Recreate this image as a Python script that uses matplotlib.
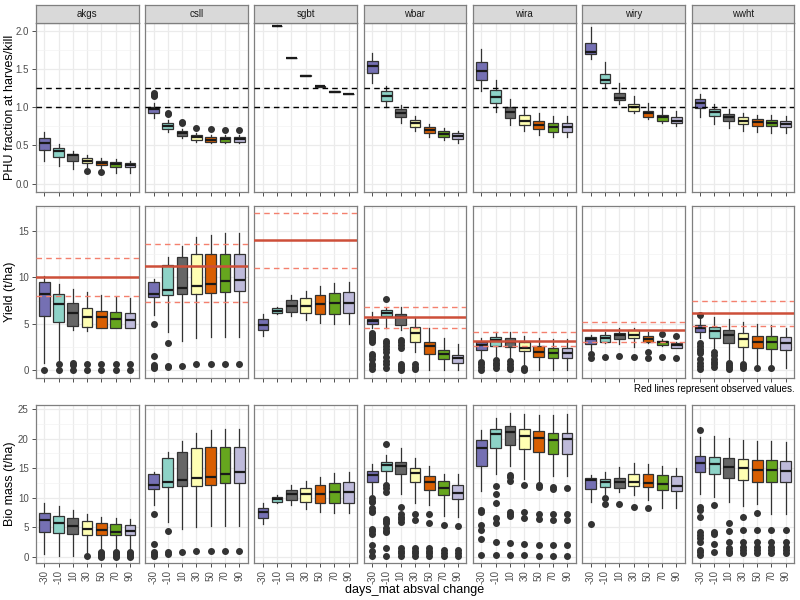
import matplotlib
matplotlib.use('Agg')
import matplotlib.pyplot as plt
from matplotlib.ticker import MultipleLocator

plt.rcParams['font.family'] = ['Liberation Sans', 'DejaVu Sans']

crops = ['akgs', 'csll', 'sgbt', 'wbar', 'wira', 'wiry', 'wwht']
changes = ['-30', '-10', '10', '30', '50', '70', '90']
box_colors = ['#7570B3', '#8DD3C7', '#666666', '#FFFFB3', '#D95F02', '#66A61E', '#BEBADA']

# box stats per change: (whisker low, q1, median, q3, whisker high)
phu_stats = {
    'akgs': [(0.29, 0.44, 0.536, 0.593, 0.67), (0.23, 0.353, 0.43, 0.46, 0.52), (0.19, 0.29, 0.37, 0.388, 0.43),
             (0.22, 0.266, 0.30, 0.335, 0.37), (0.20, 0.24, 0.266, 0.296, 0.34), (0.144, 0.222, 0.257, 0.283, 0.318),
             (0.135, 0.213, 0.24, 0.275, 0.30)],
    'csll': [(0.863, 0.92, 0.976, 1.007, 1.05), (0.67, 0.71, 0.758, 0.789, 0.83), (0.593, 0.623, 0.667, 0.688, 0.72),
             (0.55, 0.571, 0.614, 0.636, 0.667), (0.527, 0.55, 0.571, 0.614, 0.636), (0.527, 0.55, 0.58, 0.614, 0.636),
             (0.527, 0.55, 0.58, 0.614, 0.636)],
    'sgbt': [None, (2.06, 2.063, 2.065, 2.067, 2.07), (1.638, 1.641, 1.643, 1.645, 1.648), (1.407, 1.41, 1.412, 1.414, 1.417),
             (1.267, 1.27, 1.272, 1.274, 1.277), (1.198, 1.201, 1.203, 1.205, 1.208), (1.167, 1.17, 1.172, 1.174, 1.177)],
    'wbar': [(1.32, 1.442, 1.538, 1.603, 1.712), (0.998, 1.085, 1.15, 1.211, 1.28), (0.797, 0.867, 0.919, 0.972, 1.024),
             (0.688, 0.745, 0.789, 0.832, 0.885), (0.614, 0.667, 0.706, 0.741, 0.78), (0.571, 0.614, 0.649, 0.684, 0.728),
             (0.536, 0.588, 0.623, 0.658, 0.693)],
    'wira': [(1.216, 1.355, 1.477, 1.586, 1.756), (0.937, 1.05, 1.137, 1.224, 1.355), (0.771, 0.863, 0.932, 1.007, 1.111),
             (0.688, 0.763, 0.824, 0.893, 0.998), (0.64, 0.71, 0.767, 0.824, 0.919), (0.614, 0.68, 0.741, 0.797, 0.885),
             (0.614, 0.68, 0.741, 0.797, 0.88)],
    'wiry': [(1.625, 1.69, 1.725, 1.834, 2.044), (1.268, 1.32, 1.351, 1.434, 1.595), (1.041, 1.094, 1.124, 1.19, 1.312),
             (0.919, 0.954, 0.998, 1.041, 1.15), (0.841, 0.876, 0.919, 0.954, 1.05), (0.789, 0.815, 0.867, 0.893, 0.998),
             (0.754, 0.789, 0.824, 0.867, 0.954)],
    'wwht': [(0.876, 0.985, 1.05, 1.102, 1.168), (0.78, 0.885, 0.932, 0.98, 1.041), (0.723, 0.819, 0.867, 0.906, 0.972),
             (0.693, 0.78, 0.824, 0.867, 0.919), (0.671, 0.758, 0.80, 0.845, 0.898), (0.667, 0.754, 0.793, 0.832, 0.893),
             (0.658, 0.745, 0.784, 0.824, 0.885)],
}
phu_fliers = {
    'akgs': [[], [], [], [0.16], [0.148], [], []],
    'csll': [[1.14, 1.16, 1.18], [0.91, 0.92], [0.79, 0.80], [0.73], [0.71], [0.70], [0.70]],
}

yield_stats = {
    'akgs': [(0.72, 5.83, 8.24, 9.53, 10.14), (0.72, 5.14, 7.12, 8.17, 9.24), (4.32, 4.78, 6.12, 7.19, 8.78),
             (4.21, 4.64, 5.76, 6.65, 8.38), (4.5, 4.5, 5.72, 6.37, 8.09), (4.5, 4.5, 5.54, 6.22, 7.84),
             (4.5, 4.5, 5.43, 6.15, 7.73)],
    'csll': [(5.94, 7.88, 8.24, 9.53, 9.78), (4.06, 8.09, 8.67, 11.33, 12.16), (3.17, 8.17, 8.88, 12.16, 13.42),
             (3.42, 8.24, 9.1, 12.48, 14.35), (3.56, 8.31, 9.24, 12.48, 14.57), (3.56, 8.45, 9.6, 12.55, 14.75),
             (3.56, 8.53, 9.68, 12.55, 14.75)],
    'sgbt': [(3.7, 4.28, 4.86, 5.47, 6.04), (6.0, 6.15, 6.37, 6.65, 6.8), (5.86, 6.29, 6.94, 7.52, 8.09),
             (5.36, 6.12, 6.9, 7.73, 8.56), (5.07, 6.04, 7.09, 8.09, 9.03), (4.93, 6.04, 7.19, 8.27, 9.35),
             (4.93, 6.15, 7.23, 8.38, 9.46)],
    'wbar': [(4.5, 5.0, 5.29, 5.5, 6.22), (4.57, 5.79, 6.15, 6.44, 6.73), (4.32, 4.86, 5.72, 6.08, 6.76),
             (1.98, 3.06, 4.03, 4.64, 5.72), (0.0, 1.69, 2.63, 3.06, 4.5), (0.0, 1.15, 1.76, 2.12, 3.49),
             (0.0, 0.79, 1.26, 1.62, 2.84)],
    'wira': [(1.26, 2.12, 2.7, 3.06, 3.42), (1.55, 2.63, 3.2, 3.56, 4.06), (1.26, 2.48, 3.06, 3.42, 4.06),
             (0.1, 2.05, 2.41, 3.06, 3.7), (0.0, 1.44, 1.98, 2.63, 3.49), (0.0, 1.26, 1.83, 2.34, 3.35),
             (0.0, 1.26, 1.83, 2.34, 3.35)],
    'wiry': [(1.91, 2.84, 3.35, 3.56, 3.78), (2.88, 3.06, 3.42, 3.78, 4.14), (2.77, 3.35, 3.78, 4.03, 4.5),
             (2.52, 3.42, 3.78, 4.28, 4.5), (2.91, 3.06, 3.35, 3.63, 4.14), (2.63, 2.7, 2.99, 3.13, 3.35),
             (2.34, 2.41, 2.7, 2.91, 3.06)],
    'wwht': [(3.42, 4.06, 4.5, 4.86, 5.6), (2.12, 3.49, 4.21, 4.64, 5.76), (1.08, 2.95, 3.78, 4.32, 5.5),
             (1.08, 2.52, 3.35, 3.99, 5.14), (0.1, 2.34, 3.06, 3.63, 4.93), (0.1, 2.27, 3.06, 3.63, 4.86),
             (0.18, 2.12, 2.95, 3.56, 4.5)],
}
yield_fliers = {
    'akgs': [[0.0], [0.6, 0.0], [0.72, 0.54, 0.0], [0.6, 0.0], [0.6, 0.0], [0.6, 0.0], [0.6, 0.0]],
    'csll': [[4.93, 1.47, 0.54, 0.36, 0.18], [2.95, 0.47, 0.29], [0.47], [0.61], [0.61], [0.61], [0.61]],
    'wbar': [[4.0, 3.8, 3.6, 3.4, 3.2, 3.0, 1.7, 1.5, 1.2, 0.7, 0.4, 0.1],
             [7.66, 3.13, 2.88, 2.6, 2.3, 1.98, 1.4, 1.0, 0.6, 0.2],
             [3.24, 3.0, 2.7, 2.4, 0.6, 0.4, 0.2, 0.0], [0.6, 0.3, 0.1], [], [], []],
    'wira': [[0.9, 0.6, 0.3, 0.0], [1.1, 0.8, 0.5, 0.2], [1.0, 0.6, 0.3, 0.1], [0.2, 0.0], [], [], []],
    'wiry': [[1.69, 1.26], [1.44], [1.47], [1.4], [1.98, 1.33], [3.85, 1.37], [3.67, 1.26]],
    'wwht': [[5.9, 2.88, 2.6, 2.3, 2.0, 1.8, 1.2, 0.8, 0.4, 0.1], [1.9, 1.6, 1.2, 0.9, 0.6, 0.3],
             [0.72, 0.5, 0.3, 0.1], [0.6, 0.4, 0.2], [0.18], [0.18], []],
}

# observed yield: (mean, low, high)
observed_yield = {
    'akgs': (10.0, 8.02, 12.05), 'csll': (11.22, 7.34, 13.56), 'sgbt': (14.0, 11.04, 16.9),
    'wbar': (5.69, 4.57, 6.77), 'wira': (3.16, 2.62, 4.1), 'wiry': (4.32, 3.02, 5.14),
    'wwht': (6.15, 4.71, 7.48),
}
phu_refs = [1.0, 1.25]

bio_stats = {
    'akgs': [(0.4, 4.23, 6.15, 7.33, 9.02), (0.17, 4.0, 5.7, 6.94, 8.57), (0.17, 3.78, 5.13, 6.49, 7.9),
             (0.6, 3.67, 4.68, 6.03, 7.28), (1.1, 3.67, 4.57, 5.7, 6.71), (1.1, 3.67, 4.23, 5.47, 6.49),
             (1.1, 3.67, 4.34, 5.36, 6.37)],
    'csll': [(8.74, 11.45, 12.13, 14.04, 14.38), (5.92, 11.73, 12.69, 16.64, 17.65), (4.74, 11.9, 12.97, 17.71, 19.63),
             (5.02, 12.01, 13.25, 18.33, 20.98), (5.25, 12.13, 13.54, 18.5, 21.38), (5.25, 12.41, 14.04, 18.61, 21.6),
             (5.25, 12.46, 14.27, 18.61, 21.6)],
    'sgbt': [(5.58, 6.49, 7.5, 8.18, 9.02), (9.08, 9.31, 9.76, 10.1, 10.43), (8.74, 9.59, 10.55, 11.34, 12.13),
             (8.07, 9.19, 10.55, 11.68, 12.8), (7.61, 9.02, 10.66, 12.13, 13.54), (7.39, 9.02, 10.89, 12.46, 14.1),
             (7.39, 9.08, 10.89, 12.58, 14.27)],
    'wbar': [(10.55, 12.69, 13.82, 14.5, 15.68), (12.41, 14.5, 15.51, 15.96, 17.2), (10.66, 13.93, 15.28, 15.96, 18.44),
             (9.08, 12.69, 14.1, 14.95, 16.75), (8.74, 11.28, 12.69, 13.65, 15.34), (6.94, 10.43, 11.56, 12.8, 14.04),
             (6.77, 9.7, 10.83, 12.13, 14.04)],
    'wira': [(11.11, 15.28, 18.44, 19.74, 21.43), (14.04, 18.33, 20.81, 21.66, 23.52), (15.28, 18.89, 21.15, 22.17, 24.25),
             (13.14, 18.16, 20.36, 21.54, 24.14), (12.58, 17.77, 20.02, 21.32, 23.97), (13.65, 17.32, 19.68, 20.98, 23.97),
             (13.65, 17.32, 19.91, 20.98, 24.14)],
    'wiry': [(9.19, 11.45, 12.92, 13.37, 13.82), (10.55, 11.79, 12.58, 13.14, 14.38), (11.0, 11.68, 12.69, 13.37, 15.17),
             (10.43, 11.9, 12.58, 13.93, 15.79), (9.59, 11.79, 12.46, 14.04, 15.62), (8.29, 11.28, 12.24, 13.82, 15.34),
             (8.18, 11.17, 12.01, 13.65, 15.06)],
    'wwht': [(10.66, 14.38, 15.79, 17.03, 20.3), (10.15, 13.93, 15.62, 16.81, 20.42), (9.19, 13.25, 15.23, 16.64, 20.14),
             (8.63, 12.97, 14.95, 16.47, 19.74), (8.97, 12.69, 14.72, 16.36, 19.57), (7.16, 12.69, 14.72, 16.36, 19.57),
             (7.16, 12.58, 14.5, 16.24, 19.46)],
}
bio_fliers = {
    'akgs': [[], [], [], [0.05], [0.8, 0.6, 0.4, 0.2, 0.0], [0.8, 0.6, 0.4, 0.2, 0.0], [0.8, 0.6, 0.4, 0.2, 0.0]],
    'csll': [[7.22, 2.2, 0.73, 0.45, 0.17], [4.34, 0.73, 0.45], [0.73], [0.96], [0.96], [0.96], [0.96]],
    'wbar': [[9.87, 9.5, 9.3, 8.18, 7.8, 7.5, 4.68, 4.3, 3.78, 1.97, 0.96, 0.06],
             [19.0, 12.13, 11.6, 11.0, 6.37, 6.0, 5.64, 4.79, 4.4, 4.12, 1.41, 0.17],
             [8.4, 7.28, 6.8, 6.3, 5.8, 1.41, 1.0, 0.6, 0.17], [7.28, 6.15, 1.41, 1.0, 0.6, 0.17],
             [7.16, 5.7, 1.41, 1.0, 0.6, 0.17], [5.36, 1.2, 0.6, 0.17], [5.13, 1.2, 0.6, 0.17]],
    'wira': [[7.9, 7.5, 5.36, 4.46, 2.99, 0.28], [12.01, 10.66, 9.02, 6.49, 5.7, 2.54, 0.28],
             [13.9, 13.5, 12.8, 7.6, 7.3, 6.9, 2.37, 0.28], [12.13, 7.6, 6.6, 2.14, 0.28],
             [12.2, 11.8, 7.3, 6.4, 1.97, 0.2], [11.8, 11.4, 7.16, 6.2, 1.97, 0.2], [11.56, 7.16, 6.2, 1.97, 0.2]],
    'wiry': [[5.47], [9.87, 8.86], [8.86], [8.4], [8.29], [], []],
    'wwht': [[21.38, 8.4, 7.9, 6.77, 4.23, 3.7, 3.1, 2.54, 1.2, 0.8, 0.3], [8.74, 4.23, 3.9, 2.2, 0.8],
             [5.75, 4.34, 2.54, 1.4, 1.0, 0.6], [6.77, 4.46, 2.54, 1.7, 1.1, 0.6], [7.39, 4.46, 2.54, 1.7, 1.1, 0.6],
             [4.46, 2.54, 1.7, 1.1, 0.6], [4.46, 2.54, 1.7, 1.1, 0.6]],
}

W, H = 800, 600
panel_w = 102.8
panel_lefts = [35.7 + i * 109.3 for i in range(7)]

# (ylabel, stats, fliers, top px, bottom px, ylim, major step)
rows = [
    ('PHU fraction at harves/kill', phu_stats, phu_fliers, 23, 191.7, (-0.105, 2.1), 0.5),
    ('Yield (t/ha)', yield_stats, yield_fliers, 205.7, 377.7, (-0.83, 17.73), 5),
    ('Bio mass (t/ha)', bio_stats, bio_fliers, 405, 563.3, (-1.12, 25.68), 5),
]

fig = plt.figure(figsize=(8, 6), dpi=100)
fig.patch.set_facecolor('white')

for r, (ylab, stats, fliers, top, bot, ylim, step) in enumerate(rows):
    for c, crop in enumerate(crops):
        left = panel_lefts[c]
        ax = fig.add_axes([left / W, 1 - bot / H, panel_w / W, (bot - top) / H])
        ax.set_axisbelow(True)

        bstats = []
        pos = []
        cols = []
        for i, s in enumerate(stats[crop]):
            if s is None:
                continue
            fl = fliers.get(crop, [[]] * 7)[i]
            bstats.append(dict(whislo=s[0], q1=s[1], med=s[2], q3=s[3], whishi=s[4], fliers=fl))
            pos.append(i + 1)
            cols.append(box_colors[i])
        res = ax.bxp(bstats, positions=pos, widths=0.75, patch_artist=True, showcaps=False,
                     boxprops=dict(edgecolor='#333333', linewidth=0.9),
                     medianprops=dict(color='#1A1A1A', linewidth=1.6),
                     whiskerprops=dict(color='#333333', linewidth=0.9),
                     flierprops=dict(marker='o', markerfacecolor='#333333', markeredgecolor='#333333',
                                     markersize=4))
        for patch, col in zip(res['boxes'], cols):
            patch.set_facecolor(col)

        if r == 0:
            for yv in phu_refs:
                ax.axhline(yv, color='black', linestyle=(0, (4, 3)), linewidth=1.0, zorder=5)
        if r == 1:
            obs, lo, hi = observed_yield[crop]
            ax.axhline(lo, color='#F4806E', linestyle=(0, (4, 3)), linewidth=1.0, zorder=5)
            ax.axhline(hi, color='#F4806E', linestyle=(0, (4, 3)), linewidth=1.0, zorder=5)
            ax.axhline(obs, color='#CD4F39', linewidth=1.8, zorder=5)

        ax.set_xlim(0.4, 7.6)
        ax.set_ylim(*ylim)
        ax.set_xticks(range(1, 8))
        ax.yaxis.set_major_locator(MultipleLocator(step))
        ax.yaxis.set_minor_locator(MultipleLocator(step / 2))
        ax.grid(which='major', color='#EBEBEB', linewidth=0.9)
        ax.grid(which='minor', axis='y', color='#F3F3F3', linewidth=0.5)
        ax.tick_params(which='minor', length=0)
        ax.tick_params(which='major', length=3, width=0.6, color='#333333', labelsize=7,
                       labelcolor='#4D4D4D', pad=2)
        for sp in ax.spines.values():
            sp.set_color('#7F7F7F')
            sp.set_linewidth(0.9)

        if r == 2:
            ax.set_xticklabels(changes, rotation=90)
        else:
            ax.set_xticklabels([])
        if c == 0:
            if step == 0.5:
                ax.set_yticklabels(['%.1f' % t for t in ax.get_yticks()])
        else:
            ax.tick_params(axis='y', length=0, labelleft=False)

        if r == 0:
            sax = fig.add_axes([left / W, 1 - top / H, panel_w / W, 18 / H])
            sax.set_facecolor('#D9D9D9')
            sax.set_xticks([])
            sax.set_yticks([])
            for sp in sax.spines.values():
                sp.set_color('#7F7F7F')
                sp.set_linewidth(0.9)
            sax.text(0.5, 0.5, crop, ha='center', va='center', fontsize=7, color='#1A1A1A',
                     transform=sax.transAxes)

    fig.text(10 / W, 1 - (top + bot) / 2 / H, ylab, rotation=90, ha='center', va='center',
             fontsize=9, color='black')

fig.text(795 / W, 1 - 389 / H, 'Red lines represent observed values.', ha='right', va='center',
         fontsize=7, color='black')
fig.text(415 / W, 1 - 590 / H, 'days_mat absval change', ha='center', va='center', fontsize=9)

fig.savefig('out.png', dpi=100)
